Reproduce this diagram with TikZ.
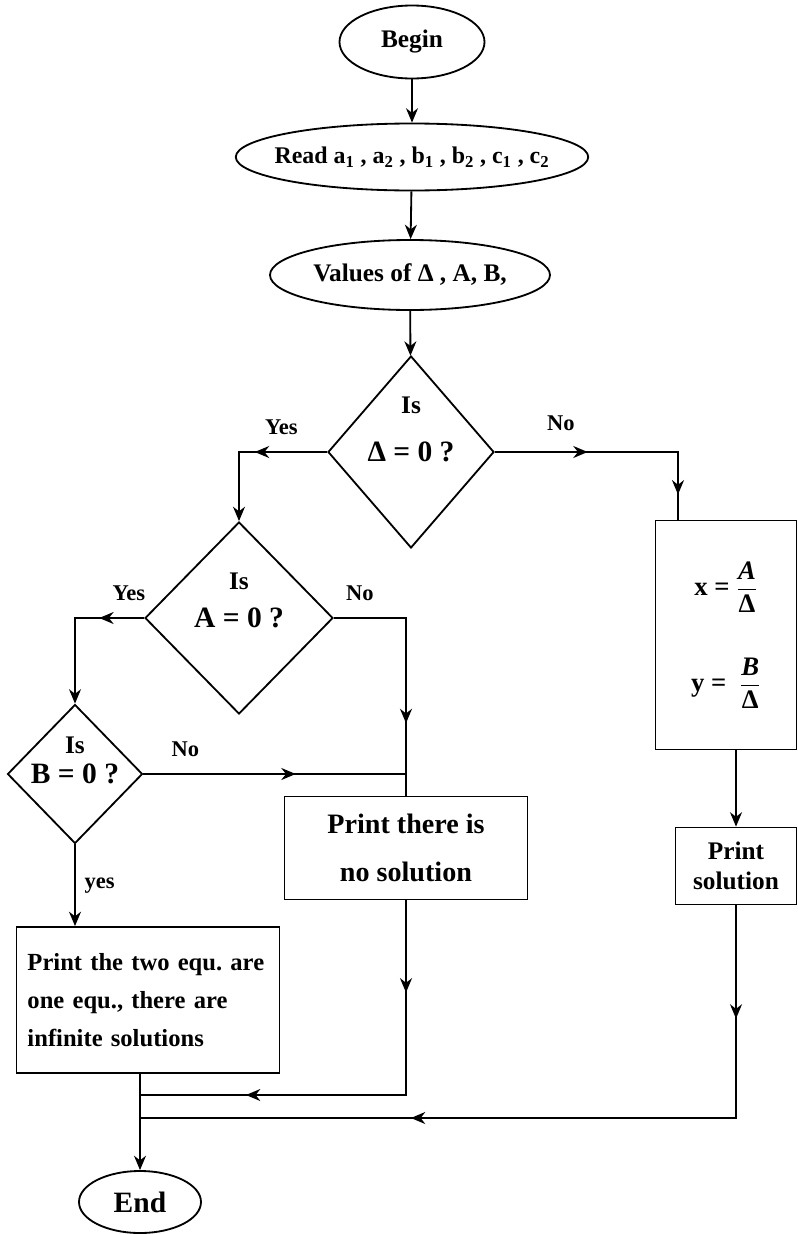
\documentclass[tikz,border=0pt]{standalone}
\usepackage{fontspec}
\setmainfont{Liberation Serif}
\usepackage{amsmath}
\usetikzlibrary{arrows.meta, shapes.geometric, decorations.markings}
\frenchspacing

\begin{document}
\begin{tikzpicture}[
  x=0.25mm, y=-0.25mm,
  line width=1.3pt,
  terminal/.style={
    ellipse, draw, inner sep=0pt,
    font=\bfseries\fontsize{18}{21}\selectfont
  },
  decision/.style={
    diamond, draw, inner sep=0pt,
    font=\bfseries\fontsize{21}{24}\selectfont
  },
  process/.style={
    rectangle, draw, inner sep=0pt, align=center,
    font=\bfseries\fontsize{18}{21}\selectfont
  },
  isq/.style={anchor=center, font=\bfseries\fontsize{18}{21}\selectfont},
  arr/.style={-{Stealth[length=3.6mm, width=3mm]}},
  lbl/.style={font=\bfseries\fontsize{16}{19}\selectfont},
  midarr/.style={postaction={decorate}, decoration={markings,
      mark=at position #1 with {\arrow{Stealth[length=3.6mm, width=3mm]}}}},
  midarrs/.style 2 args={postaction={decorate}, decoration={markings,
      mark=at position #1 with {\arrow{Stealth[length=3.6mm, width=3mm]}},
      mark=at position #2 with {\arrow{Stealth[length=3.6mm, width=3mm]}}}},
]
\useasboundingbox (0,0) rectangle (798,1234);

%% ════════════════════════════════════════════════
%% INPUT — start, read, values
%% ════════════════════════════════════════════════

\node[terminal, minimum width=36.25mm, minimum height=18.25mm] (begin) at (412,42) {Begin};
\node[terminal, minimum width=83.75mm, minimum height=16.75mm, inner xsep=-3.2mm,
      font=\bfseries\fontsize{17}{20}\selectfont] (read) at (412,157)
  {Read a\textsubscript{1} , a\textsubscript{2} , b\textsubscript{1} , b\textsubscript{2} , c\textsubscript{1} , c\textsubscript{2}};
\node[terminal, minimum width=70mm, minimum height=17.5mm] (vals) at (410,275) {Values of Δ , A, B,};

%% ════════════════════════════════════════════════
%% DECISIONS
%% ════════════════════════════════════════════════

\node[decision, minimum width=41.5mm, minimum height=48mm,
      label={[isq, yshift=-12.5mm]north:Is}] (dd) at (411,452) {Δ = 0 ?};
\node[decision, minimum width=47mm, minimum height=48mm,
      label={[isq, yshift=-15mm]north:Is}] (da) at (239,618) {A = 0 ?};
\node[decision, minimum width=33.75mm, minimum height=34.75mm,
      label={[isq, yshift=-10.5mm]north:Is}] (db) at (75,774) {B = 0 ?};

%% ════════════════════════════════════════════════
%% OUTPUT boxes
%% ════════════════════════════════════════════════

%% x, y when Delta <> 0
\node[process, minimum width=35.25mm, minimum height=57.25mm,
      font=\bfseries\fontsize{19}{22}\selectfont] (xy) at (726,635)
  {x = $\dfrac{\textit{A}}{\text{Δ}}$\\[11mm] y = \ $\dfrac{\textit{B}}{\text{Δ}}$};
\node[process, minimum width=30.25mm, minimum height=19.25mm] (ps) at (736,866) {Print\\solution};

%% no solution
\node[process, minimum width=60.75mm, minimum height=25.75mm,
      font=\bfseries\fontsize{20}{34}\selectfont] (nos) at (406,848) {Print there is\\no solution};

%% infinite solutions
\node[process, minimum width=65.75mm, minimum height=36.5mm, align=left, text width=60.25mm,
      font=\bfseries\fontsize{17.5}{27}\selectfont] (inf) at (148,1000)
  {Print the two equ. are\\one equ., there are\\infinite solutions};

\node[terminal, minimum width=30.5mm, minimum height=15.5mm,
      font=\bfseries\fontsize{21}{24}\selectfont] (end) at (140,1202) {End};

%% join points above End
\coordinate (j1) at (140,1095);
\coordinate (j2) at (140,1118);

%% ════════════════════════════════════════════════
%% CONNECTIONS
%% ════════════════════════════════════════════════

\draw[arr] (begin) -- (read);
\draw[arr] (read) -- (vals);
\draw[arr] (vals) -- (dd);

%% Delta = 0 ?
\draw[arr, midarr=0.46] (dd.west) -| node[lbl, pos=0.26, above=3mm]{Yes} (da.north);
\draw[midarrs={0.37}{0.9}] (dd.east) -| node[lbl, pos=0.18, above=4mm]{No} ([xshift=-12mm]xy.north);

%% A = 0 ?
\draw[arr, midarr=0.29] (da.west) -| node[lbl, pos=0.11, above=3mm]{Yes} (db.north);
\draw[midarr=0.71] (da.east) -| node[lbl, pos=0.18, above=3mm]{No} (nos.north);

%% B = 0 ?
\draw[midarr=0.58] (db.east) -- node[lbl, pos=0.16, above=3mm]{No} (db.east -| nos.north);
\draw[arr] (db.south) -- node[lbl, right=1mm]{yes} (db.south |- inf.north);

%% results
\draw[arr] (ps.north |- xy.south) -- (ps.north);
\draw[midarrs={0.2}{0.77}] (nos.south) |- (j1);
\draw[midarrs={0.14}{0.665}] (ps.south) |- (j2);
\draw[arr] (end.north |- inf.south) -- (end.north);

\end{tikzpicture}
\end{document}
